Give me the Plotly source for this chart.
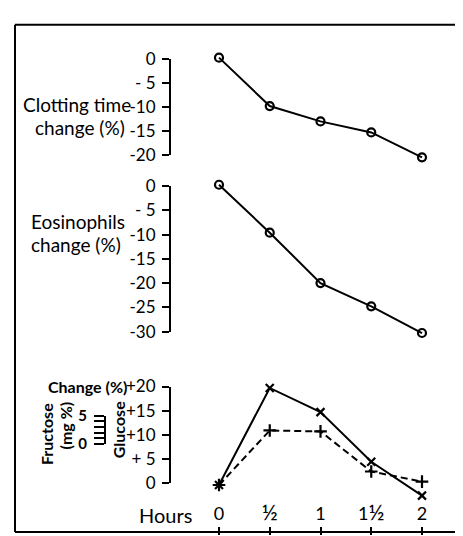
import plotly.graph_objects as go

# ---------------- data ----------------
hours = [0, 0.5, 1, 1.5, 2]
hour_tick_vals = [0, 0.5, 1, 1.5, 2]
hour_tick_text = ["0", "<span style='font-size:22px'>½</span>", "1",
                  "1<span style='font-size:22px'>½</span>", "2"]

clotting_change = [0.3, -9.8, -13.0, -15.3, -20.5]
eosinophil_change = [0.3, -9.6, -20.0, -24.8, -30.3]
solid_x_change = [-0.4, 19.7, 14.7, 4.4, -2.6]     # solid line, x markers
dashed_plus_change = [-0.4, 10.9, 10.7, 2.4, 0.3]  # dashed line, + markers

clot_ticks = [0, -5, -10, -15, -20]
clot_text = ["0", "- 5", "-10", "-15", "-20"]
eos_ticks = [0, -5, -10, -15, -20, -25, -30]
eos_text = ["0", "- 5", "-10", "-15", "-20", "-25", "-30"]
glu_ticks = [0, 5, 10, 15, 20]
glu_text = ["0", "+ 5", "+10", "+15", "+20"]
fru_ticks = [0, 1, 2, 3, 4, 5]
fru_text = ["0", "", "", "", "", "5"]

# ---------------- geometry helpers ----------------
W, H = 463, 536
FONT = "Lato"


def pxx(p):
    return p / W


def pyy(p):
    return 1 - p / H


def val_at(p, p0, v0, p1, v1):
    return v0 + (p - p0) * (v1 - v0) / (p1 - p0)


def data_axis(ptop, pbot, p0, v0, p1, v1):
    return dict(domain=[pyy(pbot), pyy(ptop)],
                range=[val_at(pbot, p0, v0, p1, v1), val_at(ptop, p0, v0, p1, v1)],
                visible=False, anchor="x", fixedrange=True)


def scale_axis(vmin, vmax, p_vmin, p_vmax, pos, tickvals, ticktext, size=17, bold=False,
               ticklen=7, standoff=3):
    return dict(domain=[pyy(p_vmin), pyy(p_vmax)], range=[vmin, vmax],
                anchor="free", position=pxx(pos), side="left",
                showline=True, linecolor="black", linewidth=2,
                ticks="outside", ticklen=ticklen, tickwidth=2, tickcolor="black",
                tickvals=tickvals, ticktext=ticktext, ticklabelstandoff=standoff,
                tickfont=dict(family=FONT, size=size, color="black",
                              weight="bold" if bold else "normal"),
                showgrid=False, zeroline=False, fixedrange=True)


# pixel calibration (value -> pixel)
C0, C20 = 41.7, 141.5      # clotting 0, -20
E0, E30 = 174.0, 325.3     # eosinophils 0, -30
G20, G0 = 382.5, 483.0     # glucose +20, 0
F5, F0 = 413.0, 442.0      # fructose 5, 0
X0, X2 = 211.0, 414.0      # hours 0, 2

fig = go.Figure()

line_style = dict(color="black", width=2)
circle = dict(symbol="circle-open", size=8, color="black", line=dict(width=2.2, color="black"))

fig.add_trace(go.Scatter(x=hours, y=clotting_change, xaxis="x", yaxis="y",
                         mode="lines+markers", line=line_style, marker=circle,
                         cliponaxis=False, showlegend=False, hoverinfo="skip"))
fig.add_trace(go.Scatter(x=hours, y=eosinophil_change, xaxis="x", yaxis="y3",
                         mode="lines+markers", line=line_style, marker=circle,
                         cliponaxis=False, showlegend=False, hoverinfo="skip"))
fig.add_trace(go.Scatter(x=hours, y=dashed_plus_change, xaxis="x", yaxis="y5",
                         mode="lines+markers", line=dict(color="black", width=2, dash="7px,4px"),
                         marker=dict(symbol="cross-thin", size=9, line=dict(width=2.2, color="black")),
                         cliponaxis=False, showlegend=False, hoverinfo="skip"))
fig.add_trace(go.Scatter(x=hours, y=solid_x_change, xaxis="x", yaxis="y5",
                         mode="lines+markers", line=line_style,
                         marker=dict(symbol="x-thin", size=8, line=dict(width=2.2, color="black")),
                         cliponaxis=False, showlegend=False, hoverinfo="skip"))

# dummy traces so the scale axes are drawn
for ya in ["y2", "y4", "y6", "y7"]:
    fig.add_trace(go.Scatter(x=[None], y=[None], xaxis="x", yaxis=ya, mode="markers",
                             showlegend=False, hoverinfo="skip"))

AX = 162
fig.update_layout(
    width=W, height=H,
    margin=dict(l=0, r=0, t=0, b=0),
    paper_bgcolor="white", plot_bgcolor="rgba(0,0,0,0)",
    font=dict(family=FONT, color="black"),
    xaxis=dict(domain=[0, 1],
               range=[val_at(0, X0, 0, X2, 2), val_at(W, X0, 0, X2, 2)],
               anchor="free", position=pyy(528),
               showline=False, showgrid=False, zeroline=False,
               ticks="outside", ticklen=8, tickwidth=2, tickcolor="black",
               tickvals=hour_tick_vals, ticktext=hour_tick_text,
               ticklabelposition="inside",
               tickfont=dict(family=FONT, size=18, color="black"),
               fixedrange=True),
    yaxis=data_axis(20, 165, C0, 0, C20, -20),
    yaxis2=scale_axis(-20, 0, C20, C0, AX, clot_ticks, clot_text),
    yaxis3=data_axis(160, 345, E0, 0, E30, -30),
    yaxis4=scale_axis(-30, 0, E30, E0, AX, eos_ticks, eos_text),
    yaxis5=data_axis(365, 510, G0, 0, G20, 20),
    yaxis6=scale_axis(0, 20, G0, G20, AX, glu_ticks, glu_text),
    yaxis7=scale_axis(0, 5, F0, F5, 97, fru_ticks, fru_text, size=15, bold=True,
                      ticklen=10, standoff=4),
)

# frame
frame = dict(type="line", xref="paper", yref="paper", line=dict(color="black", width=2))
fig.add_shape(**frame, x0=pxx(7), x1=pxx(7), y0=pyy(6), y1=pyy(534))
fig.add_shape(**frame, x0=pxx(7), x1=1, y0=pyy(6), y1=pyy(6))
fig.add_shape(**frame, x0=pxx(7), x1=1, y0=pyy(534), y1=pyy(534))


def label(text, x, y, size, xanchor="center", bold=False, angle=0):
    fig.add_annotation(text=text, x=pxx(x), y=pyy(y), xref="paper", yref="paper",
                       xanchor=xanchor, yanchor="middle", showarrow=False, textangle=angle,
                       borderpad=0,
                       font=dict(family=FONT, size=size, color="black",
                                 weight="bold" if bold else "normal"))


label("Clotting time", 124, 89, 19, xanchor="right")
label("change (%)", 118, 113, 19, xanchor="right")
label("Eosinophils", 70, 211, 19)
label("change (%)", 68, 235, 19)
label("Change (%)", 120, 383, 16, xanchor="right", bold=True)
label("Fructose", 38, 432, 16, bold=True, angle=-90)
label("(mg %)", 57, 423, 16, bold=True, angle=-90)
label("Glucose", 110, 428, 16, bold=True, angle=-90)
label("Hours", 157, 516, 20)

fig.write_html("out.html")
